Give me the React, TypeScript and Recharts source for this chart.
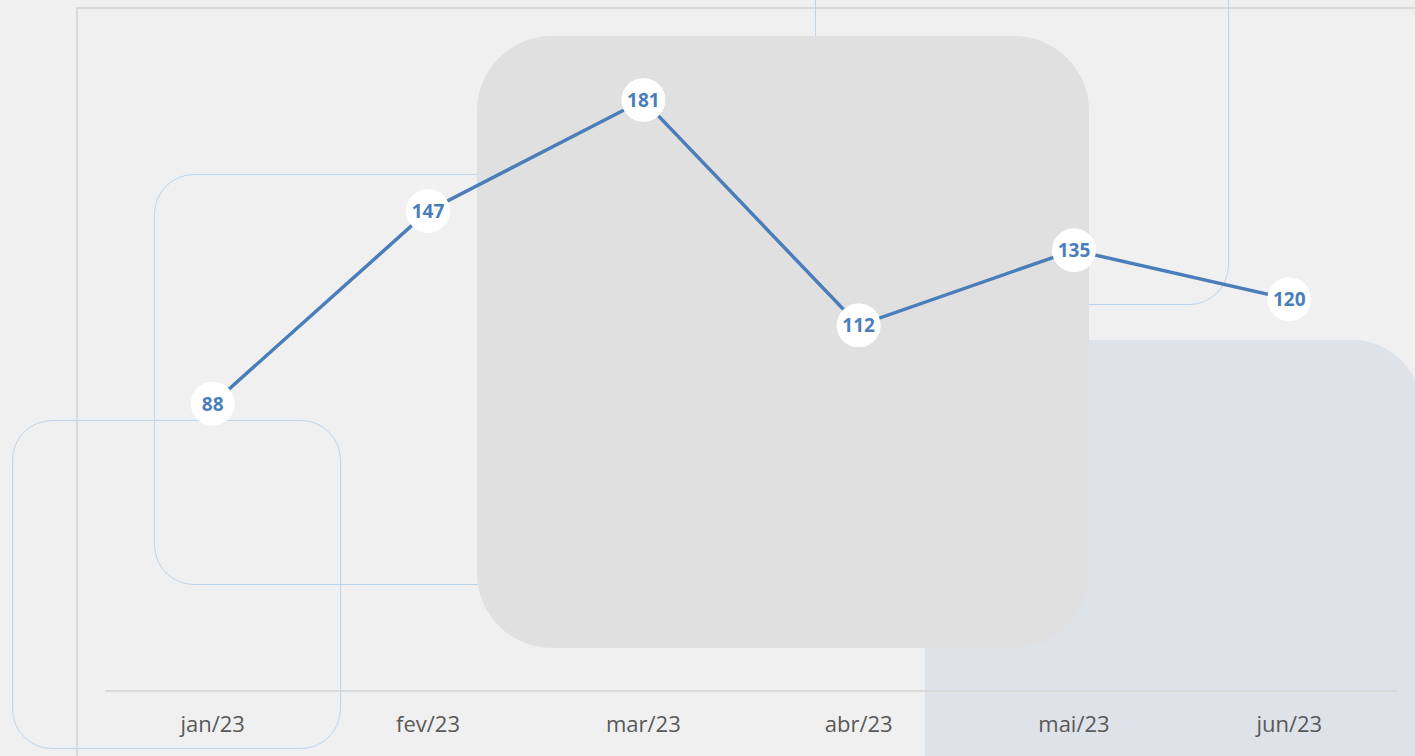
import React from 'react';
import { LineChart, Line, XAxis, YAxis } from 'recharts';

const months = ['jan/23', 'fev/23', 'mar/23', 'abr/23', 'mai/23', 'jun/23'];
const totals = [88, 147, 181, 112, 135, 120];

const data = months.map((month, i) => ({ month, total: totals[i] }));

const LINE_COLOR = '#4a7ebb';
const FONT = '"Open Sans", "Noto Sans", sans-serif';

const ValueBubble = (props: any) => {
  const { x, y, value } = props;
  return (
    <g>
      <circle cx={x} cy={y} r={22} fill="#ffffff" />
      <text
        x={x}
        y={y}
        dy="0.36em"
        textAnchor="middle"
        fill={LINE_COLOR}
        fontFamily={FONT}
        fontWeight={700}
        fontSize={19}
      >
        {value}
      </text>
    </g>
  );
};

const box = (style: React.CSSProperties): React.CSSProperties => ({
  position: 'absolute',
  boxSizing: 'border-box',
  ...style,
});

const App: React.FC = () => {
  return (
    <div
      style={{
        position: 'absolute',
        left: 0,
        top: 0,
        width: 1415,
        height: 756,
        overflow: 'hidden',
        background: '#f0f0f0',
      }}
    >
      {/* frame */}
      <div
        style={box({
          left: 76,
          top: 7,
          width: 1400,
          height: 800,
          borderTop: '2px solid #d9d9d9',
          borderLeft: '2px solid #d9d9d9',
        })}
      />
      {/* outlined squares */}
      <div
        style={box({
          left: 12,
          top: 420,
          width: 329,
          height: 329,
          border: '1px solid #bcd5ee',
          borderRadius: 40,
        })}
      />
      <div
        style={box({
          left: 154,
          top: 174,
          width: 411,
          height: 411,
          border: '1px solid #bcd5ee',
          borderRadius: 40,
        })}
      />
      <div
        style={box({
          left: 815,
          top: -110,
          width: 414,
          height: 415,
          border: '1px solid #bcd5ee',
          borderRadius: 40,
        })}
      />
      {/* filled squares */}
      <div
        style={box({
          left: 925,
          top: 340,
          width: 497,
          height: 560,
          background: '#dee2e9',
          borderRadius: 70,
        })}
      />
      <div
        style={box({
          left: 477,
          top: 36,
          width: 612,
          height: 612,
          background: '#e0e0e0',
          borderRadius: 75,
        })}
      />
      <div style={{ position: 'absolute', left: 0, top: 0 }}>
        <LineChart
          width={1415}
          height={756}
          data={data}
          margin={{ top: 38, right: 18, left: 105, bottom: 35 }}
        >
          <XAxis
            dataKey="month"
            height={30}
            padding={{ left: 107.7, right: 107.7 }}
            axisLine={{ stroke: '#d9d9d9', strokeWidth: 2 }}
            tickLine={false}
            tickSize={0}
            tickMargin={25}
            tick={{ fill: '#595959', fontFamily: FONT, fontSize: 22 }}
          />
          <YAxis hide domain={[0, 200]} />
          <Line
            type="linear"
            dataKey="total"
            stroke={LINE_COLOR}
            strokeWidth={3.5}
            dot={false}
            activeDot={false}
            label={<ValueBubble />}
            isAnimationActive={false}
          />
        </LineChart>
      </div>
    </div>
  );
};

export default App;
